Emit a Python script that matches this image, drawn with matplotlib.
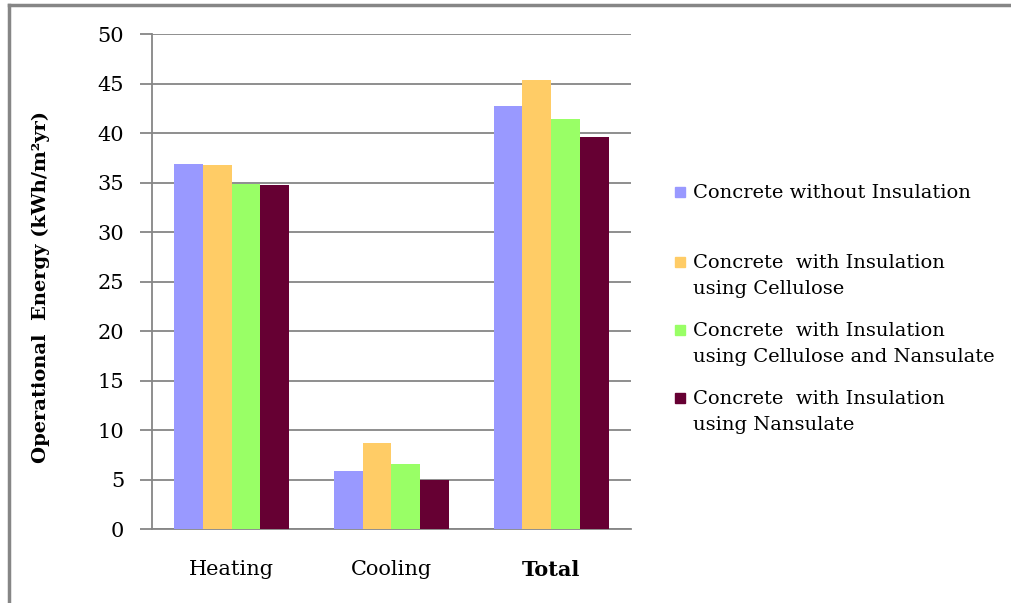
import numpy as np
import matplotlib.pyplot as plt
from matplotlib.patches import Rectangle
from matplotlib.lines import Line2D

categories = ['Heating', 'Cooling', 'Total']
series = ['Concrete without Insulation',
          'Concrete  with Insulation\nusing Cellulose',
          'Concrete  with Insulation\nusing Cellulose and Nansulate',
          'Concrete  with Insulation\nusing Nansulate']
without_ins = [36.9, 5.9, 42.7]
cellulose = [36.8, 8.7, 45.4]
cell_nansulate = [34.8, 6.6, 41.4]
nansulate = [34.7, 5.0, 39.6]
colors = ['#9999FF', '#FFCC66', '#99FF66', '#660033']

plt.rcParams['font.family'] = ['DejaVu Serif']

fig = plt.figure(figsize=(10.12, 6.03), dpi=100)
ax = fig.add_axes([0.150, 0.1227, 0.4735, 0.8209])

x = np.arange(len(categories)) + 0.5
w = 0.18
data = [without_ins, cellulose, cell_nansulate, nansulate]
for i, (vals, c) in enumerate(zip(data, colors)):
    ax.bar(x + (i - 1.5) * w, vals, w, color=c, zorder=3)

ax.set_xlim(0, 3)
ax.set_ylim(0, 50)
ax.set_yticks(range(0, 51, 5))
ax.set_xticks(x)
ax.set_xticklabels(categories, fontsize=15)
ax.get_xticklabels()[2].set_fontweight('bold')
ax.tick_params(axis='x', length=0, pad=22)
ax.tick_params(axis='y', length=9, width=1.3, color='#868686', labelsize=15, pad=11)
ax.grid(axis='y', color='#868686', linewidth=1.3, zorder=0)
for s in ['top', 'right']:
    ax.spines[s].set_visible(False)
for s in ['left', 'bottom']:
    ax.spines[s].set_color('#868686')
    ax.spines[s].set_linewidth(1.3)

ax.set_ylabel('Operational  Energy (kWh/m²yr)', fontsize=14, fontweight='bold')
ax.yaxis.set_label_coords(-0.213, 0.489)

# legend drawn by hand: Excel spaces the entries unevenly
H = 603.0
marker_y = [192, 262, 330, 398]
for lab, c, my in zip(series, colors, marker_y):
    fig.add_artist(Rectangle((675 / 1012, 1 - (my + 5) / H), 10 / 1012, 10 / H,
                             transform=fig.transFigure, color=c))
    for k, line in enumerate(lab.split('\n')):
        fig.text(693 / 1012, 1 - (my + 6 + 26 * k) / H, line, fontsize=14,
                 va='baseline', ha='left')

# outer chart border (top and left visible)
fig.add_artist(Line2D([0.0093, 1.0], [0.9917, 0.9917], transform=fig.transFigure,
                      color='#868686', linewidth=2.5))
fig.add_artist(Line2D([0.0093, 0.0093], [0.0, 0.9917], transform=fig.transFigure,
                      color='#868686', linewidth=2.5))

fig.savefig('out.png', dpi=100)
